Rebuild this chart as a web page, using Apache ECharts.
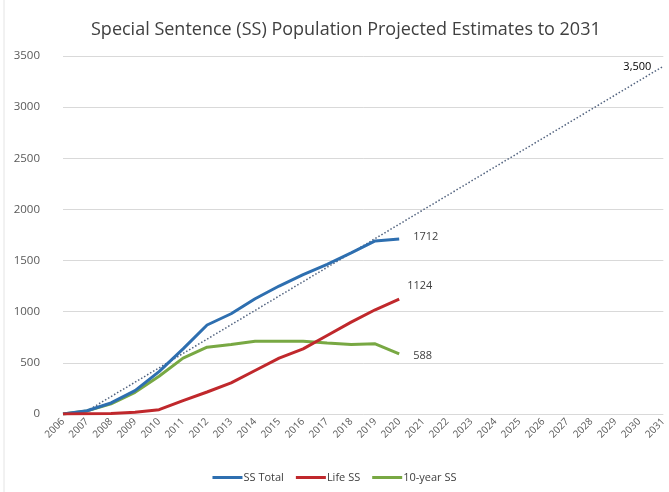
<!DOCTYPE html>
<html><head><meta charset="utf-8">
<script src="https://cdn.jsdelivr.net/npm/echarts@6/dist/echarts.min.js"></script>
<style>html,body{margin:0;padding:0;background:#fff}#c{width:669px;height:492px}</style>
</head><body><div id="c"></div>
<script>
var years = ['2006','2007','2008','2009','2010','2011','2012','2013','2014','2015','2016','2017','2018','2019','2020','2021','2022','2023','2024','2025','2026','2027','2028','2029','2030','2031'];
var ssTotal = [0, 32, 108, 229, 415, 637, 870, 980, 1127, 1251, 1362, 1463, 1575, 1692, 1712];
var lifeSS = [0, 3, 5, 16, 42, 130, 215, 304, 425, 546, 637, 768, 898, 1019, 1124];
var tenYearSS = [0, 30, 100, 212, 369, 546, 653, 679, 712, 712, 712, 693, 679, 686, 588];
var trend = [null, 30, null, null, null, null, null, null, null, null, null, null, null, null, null, null, null, null, null, null, null, null, null, null, null, 3400];
var trendLabel = '3,500';
var yTicks = [0, 500, 1000, 1500, 2000, 2500, 3000, 3500];

var FONT = 'Open Sans';
function endLbl(dx, dy, fmt, color) {
  return {show: true, offset: [dx, dy], color: color || '#404040', fontSize: 11, fontFamily: FONT,
    formatter: fmt || function (p) { return String(p.value); }};
}
var chart = echarts.init(document.getElementById('c'));
chart.setOption({
  animation: false,
  title: {text: 'Special Sentence (SS) Population Projected Estimates to 2031', left: 86, top: 16,
    textStyle: {fontFamily: FONT, fontSize: 18, fontWeight: 'normal', color: '#404040'}},
  grid: {left: 63, right: 5, top: 56, bottom: 78},
  legend: {bottom: 4, left: 'center', itemWidth: 30, itemHeight: 3, itemGap: 12,
    icon: 'rect',
    textStyle: {fontFamily: FONT, fontSize: 11, color: '#404040', padding: [0, 0, 0, -4]},
    data: ['SS Total', 'Life SS', '10-year SS']},
  xAxis: {type: 'category', data: years, boundaryGap: false,
    axisLine: {show: false}, axisTick: {show: false},
    axisLabel: {rotate: 45, fontFamily: FONT, fontSize: 10, color: '#595959', margin: 6, interval: 0}},
  yAxis: {type: 'value', min: 0, max: yTicks[yTicks.length - 1], interval: 500,
    axisLine: {show: false}, axisTick: {show: false},
    axisLabel: {fontFamily: FONT, fontSize: 11.5, color: '#595959', margin: 23, formatter: function (v) { return String(v); }},
    splitLine: {lineStyle: {color: '#d9d9d9', width: 1}}},
  series: [
    {name: 'SS Total', type: 'line', data: ssTotal, showSymbol: false, symbol: 'none',
      endLabel: endLbl(6, -2),
      lineStyle: {color: '#2e6fb0', width: 3}, itemStyle: {color: '#2e6fb0'}, z: 3},
    {name: 'Life SS', type: 'line', data: lifeSS, showSymbol: false, symbol: 'none',
      endLabel: endLbl(0, -13),
      lineStyle: {color: '#c0282c', width: 3}, itemStyle: {color: '#c0282c'}, z: 3},
    {name: '10-year SS', type: 'line', data: tenYearSS, showSymbol: false, symbol: 'none',
      endLabel: endLbl(6, 2),
      lineStyle: {color: '#78a843', width: 3}, itemStyle: {color: '#78a843'}, z: 2},
    {name: 'Trend', type: 'line', connectNulls: true, symbol: 'none', showSymbol: false,
      data: trend,
      endLabel: endLbl(-48, 1, function () { return trendLabel; }, '#000'),
      lineStyle: {color: '#51627e', width: 1.5, type: [1.5, 2]}, z: 1}
  ],
  graphic: [{type: 'line', shape: {x1: 4, y1: 0, x2: 4, y2: 492}, style: {stroke: '#e4e4e4', lineWidth: 1}}]
});
</script></body></html>
